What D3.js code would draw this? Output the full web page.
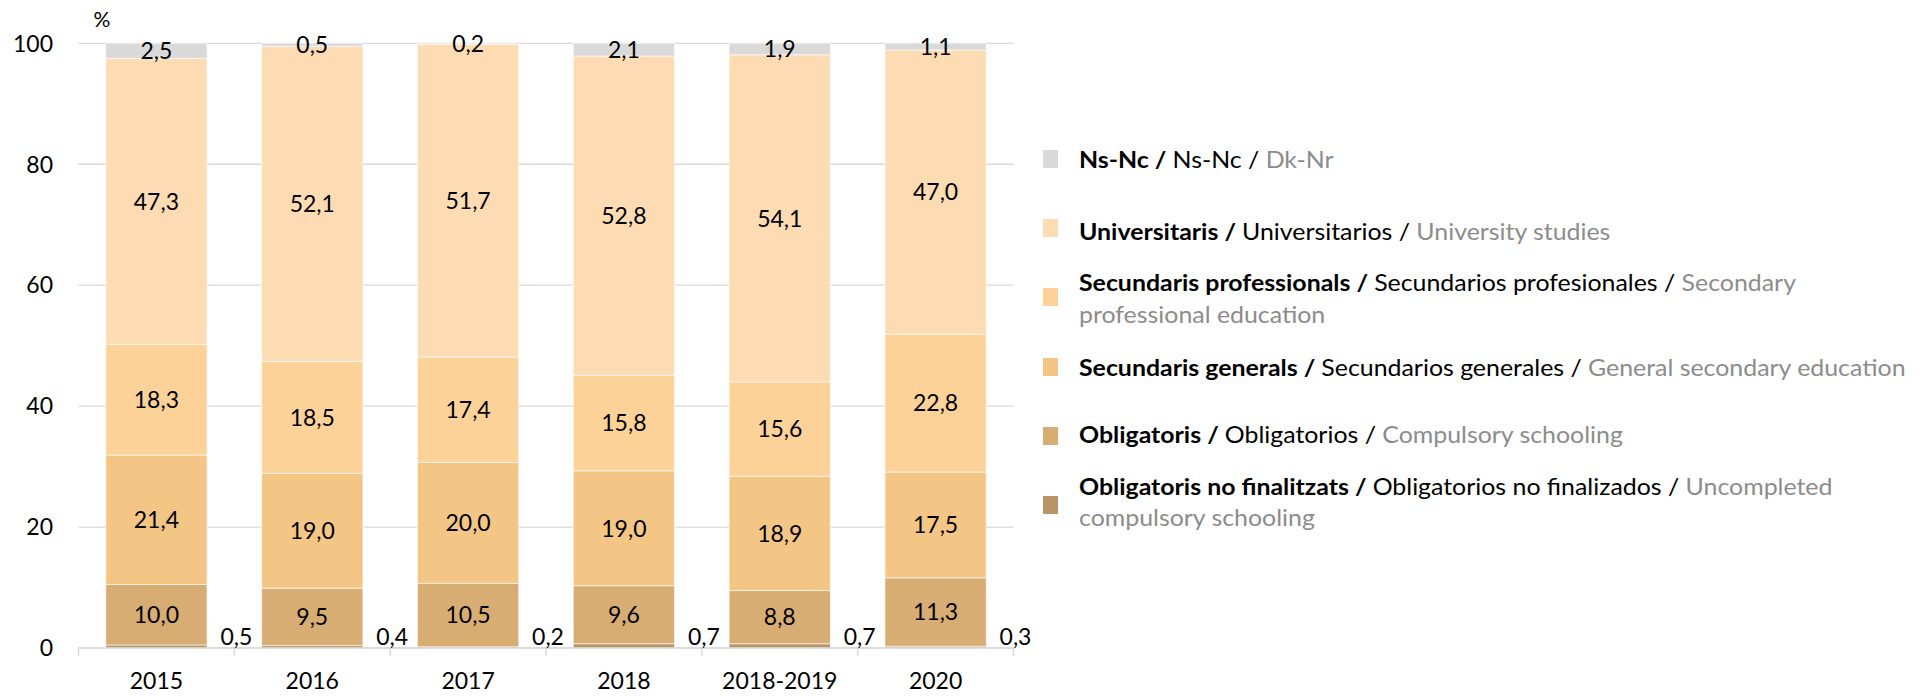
<!DOCTYPE html>
<html>
<head>
<meta charset="utf-8">
<script src="https://cdn.jsdelivr.net/npm/d3@7"></script>
<style>
  body { margin: 0; background: #fff; }
  svg text { font-family: Lato, "Open Sans", sans-serif; }
</style>
</head>
<body>
<div id="chart"></div>
<script>
/* -----------------    DATA     ------------------ */

const categories = ['2015', '2016', '2017', '2018', '2018-2019', '2020'];

// bottom to top of each bar
const uncompleted = [0.5, 0.4, 0.2, 0.7, 0.7, 0.3];
const compulsory = [10.0, 9.5, 10.5, 9.6, 8.8, 11.3];
const generalSecondary = [21.4, 19.0, 20.0, 19.0, 18.9, 17.5];
const professionalSecondary = [18.3, 18.5, 17.4, 15.8, 15.6, 22.8];
const university = [47.3, 52.1, 51.7, 52.8, 54.1, 47.0];
const nsnc = [2.5, 0.5, 0.2, 2.1, 1.9, 1.1];

const yTicks = [0, 20, 40, 60, 80, 100];

// legend texts, top to bottom (Catalan / Spanish / English)
const legendCa = ['Ns-Nc', 'Universitaris', 'Secundaris professionals', 'Secundaris generals', 'Obligatoris', 'Obligatoris no finalitzats'];
const legendEs = ['Ns-Nc', 'Universitarios', 'Secundarios profesionales', 'Secundarios generales', 'Obligatorios', 'Obligatorios no finalizados'];
const legendEn = ['Dk-Nr', 'University studies', 'Secondary|professional education', 'General secondary education', 'Compulsory schooling', 'Uncompleted|compulsory schooling'];

/* -----------------    SETTINGS     ------------------ */

const settings = {
    width: 1927,
    height: 697,
    left: 78.5,
    right: 1013.5,
    top: 43.3,
    bottom: 648,
    colGrid: '#d9d9d9',
    colors: ['#b99466', '#d8ad73', '#f4c685', '#fdd299', '#fddcb4', '#d9d9d9'],
    fontSize: 23
};

const seriesList = [uncompleted, compulsory, generalSecondary, professionalSecondary, university, nsnc];
const keys = ['uncompleted', 'compulsory', 'generalSecondary', 'professionalSecondary', 'university', 'nsnc'];

const rows = categories.map((cat, i) => {
    const row = { cat };
    keys.forEach((k, j) => { row[k] = seriesList[j][i]; });
    return row;
});

/* -----------------    CHART     ------------------ */

const svg = d3.select('#chart')
    .append('svg')
    .attr('width', settings.width)
    .attr('height', settings.height);

const x = d3.scaleBand()
    .domain(categories)
    .range([settings.left, settings.right])
    .paddingInner(0.35)
    .paddingOuter(0.175);

const y = d3.scaleLinear()
    .domain([0, 100])
    .range([settings.bottom, settings.top]);

const fmt = v => v.toFixed(1).replace('.', ',');

// gridlines
svg.append('g')
    .selectAll('line')
    .data(yTicks)
    .enter()
    .append('line')
    .attr('x1', settings.left)
    .attr('x2', settings.right)
    .attr('y1', d => y(d))
    .attr('y2', d => y(d))
    .attr('stroke', settings.colGrid)
    .attr('stroke-width', 1.3);

// y labels
svg.append('g')
    .selectAll('text')
    .data(yTicks)
    .enter()
    .append('text')
    .attr('x', 53)
    .attr('y', d => y(d))
    .attr('dy', '0.36em')
    .attr('text-anchor', 'end')
    .attr('font-size', settings.fontSize)
    .attr('fill', '#000')
    .text(d => d);

svg.append('text')
    .attr('x', 102)
    .attr('y', 19)
    .attr('dy', '0.36em')
    .attr('text-anchor', 'middle')
    .attr('font-size', 21)
    .text('%');

// stacked bars
const stack = d3.stack().keys(keys);
const layers = stack(rows);

const layerG = svg.append('g')
    .selectAll('g')
    .data(layers)
    .enter()
    .append('g')
    .attr('fill', (d, i) => settings.colors[i]);

layerG.selectAll('rect')
    .data(d => d)
    .enter()
    .append('rect')
    .attr('x', d => x(d.data.cat))
    .attr('width', x.bandwidth())
    .attr('y', d => y(d[1]))
    .attr('height', d => y(d[0]) - y(d[1]))
    .attr('stroke', '#fff')
    .attr('stroke-opacity', 0.6)
    .attr('stroke-width', 1);

// x axis line + ticks
const step = x.step();
const x0 = settings.left;
const boundaries = d3.range(categories.length + 1).map(i => x0 + i * step);

svg.append('line')
    .attr('x1', settings.left)
    .attr('x2', settings.right)
    .attr('y1', settings.bottom)
    .attr('y2', settings.bottom)
    .attr('stroke', settings.colGrid)
    .attr('stroke-width', 1.5);

svg.append('g')
    .selectAll('line')
    .data(boundaries)
    .enter()
    .append('line')
    .attr('x1', d => d)
    .attr('x2', d => d)
    .attr('y1', settings.bottom)
    .attr('y2', settings.bottom + 8)
    .attr('stroke', settings.colGrid)
    .attr('stroke-width', 1.5);

svg.append('g')
    .selectAll('text')
    .data(categories)
    .enter()
    .append('text')
    .attr('x', d => x(d) + x.bandwidth() / 2)
    .attr('y', 681)
    .attr('dy', '0.36em')
    .attr('text-anchor', 'middle')
    .attr('font-size', settings.fontSize)
    .text(d => d);

// value labels
layers.forEach((layer, li) => {
    svg.append('g')
        .selectAll('text')
        .data(layer)
        .enter()
        .append('text')
        .attr('x', d => li === 0
            ? x(d.data.cat) + x.bandwidth() + (step - x.bandwidth()) / 2 + 2
            : x(d.data.cat) + x.bandwidth() / 2)
        .attr('y', d => li === 0 ? settings.bottom - 11 : y((d[0] + d[1]) / 2))
        .attr('dy', '0.36em')
        .attr('text-anchor', 'middle')
        .attr('font-size', settings.fontSize)
        .attr('fill', '#000')
        .text(d => fmt(d.data[layer.key]));
});

/* -----------------    LEGEND     ------------------ */

const legendX = 1079;
const swatchX = 1043;
const legendLineY = [[160], [232], [283, 315], [368], [435], [487, 518]];
const legendSwatchY = [159, 228, 297, 367, 436, 505];
const legendColors = settings.colors.slice().reverse();
const legendFont = 23;

const legend = svg.append('g');
const legendText = legend.append('g');

legendCa.forEach((ca, i) => {
    legend.append('rect')
        .attr('x', swatchX)
        .attr('y', legendSwatchY[i] - 9)
        .attr('width', 15)
        .attr('height', 18)
        .attr('fill', legendColors[i]);

    const enParts = legendEn[i].split('|');
    const t = legendText.append('text')
        .attr('x', legendX)
        .attr('y', legendLineY[i][0])
        .attr('dy', '0.36em')
        .attr('font-size', legendFont);
    t.append('tspan').attr('font-weight', 'bold').attr('fill', '#000').text(ca + ' / ');
    t.append('tspan').attr('fill', '#000').text(legendEs[i] + ' / ');
    t.append('tspan').attr('fill', '#8c8c8c').text(enParts[0]);

    if (enParts[1]) {
        legendText.append('text')
            .attr('x', legendX)
            .attr('y', legendLineY[i][1])
            .attr('dy', '0.36em')
            .attr('font-size', legendFont)
            .attr('fill', '#8c8c8c')
            .text(enParts[1]);
    }
});

// stretch legend text horizontally so the widest line spans like the original
const fitLegend = () => {
    legendText.attr('transform', null);
    const widest = legendText.selectAll('text').nodes()[4];
    const k = 827 / widest.getBBox().width;
    legendText.attr('transform', `translate(${legendX},0) scale(${k},1) translate(${-legendX},0)`);
};
fitLegend();
if (document.fonts && document.fonts.ready) {
    document.fonts.ready.then(fitLegend);
}
</script>
</body>
</html>
